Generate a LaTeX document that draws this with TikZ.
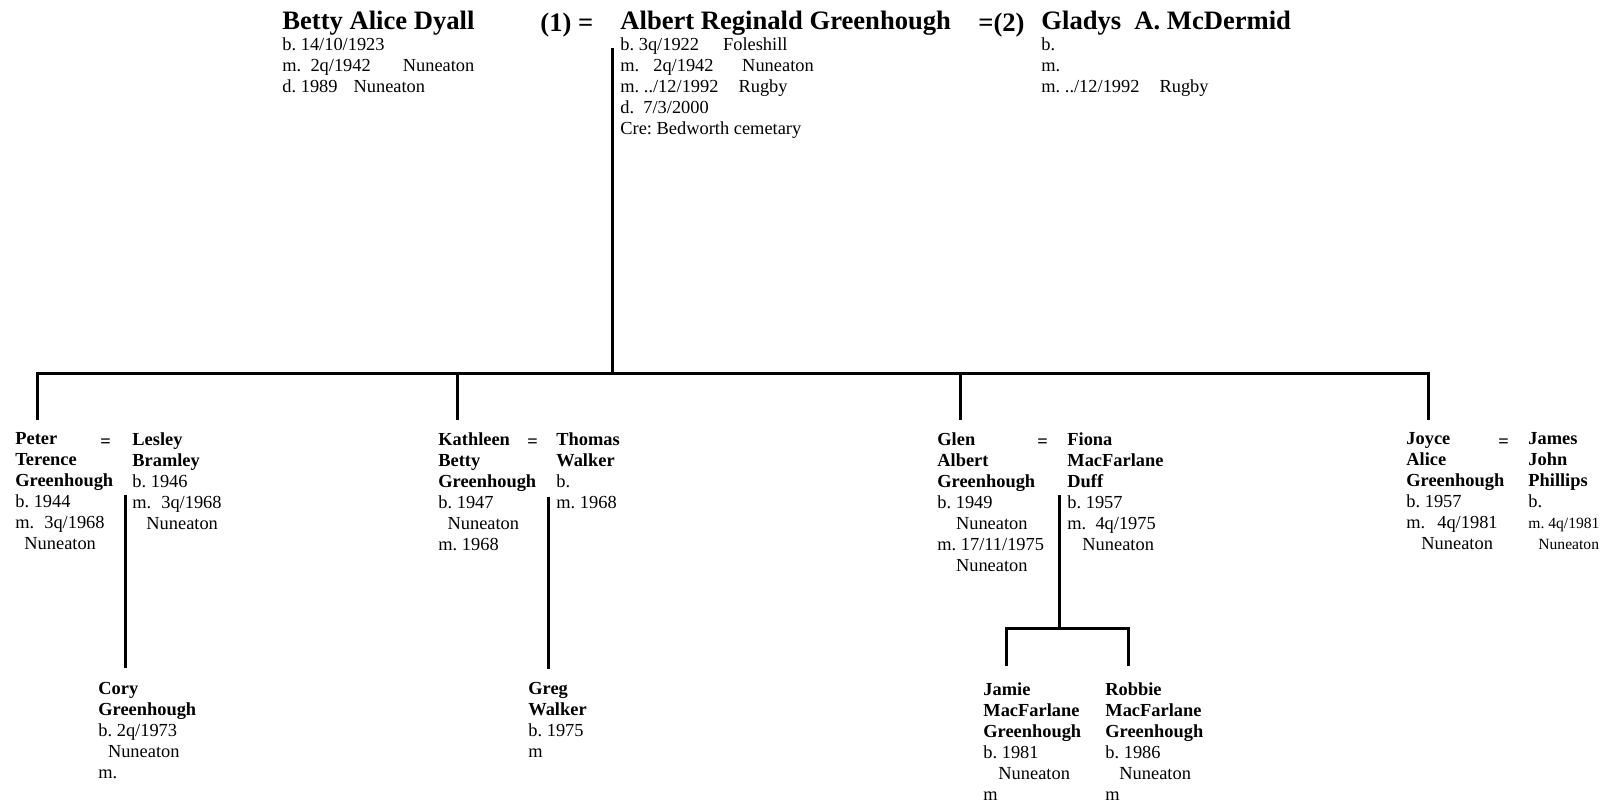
\documentclass[tikz,border=0pt]{standalone}
\usepackage{fontspec}
\setmainfont{Liberation Serif}
\newcommand{\elderfont}{\fontsize{13.3}{10.5}\selectfont\bfseries}
\newcommand{\notefont}{\fontsize{7.8}{10.5}\selectfont}
\begin{document}
\frenchspacing
\begin{tikzpicture}[x=0.5pt, y=-0.5pt,
  every node/.style={align=left, anchor=north west, inner sep=0pt, font=\fontsize{9.2}{10.5}\selectfont},
  person/.style={execute at begin node=\strut},
  elder/.style={execute at begin node={\rule{0pt}{10pt}}},
  tree/.style={line width=1.5pt}]
\useasboundingbox (0,0) rectangle (1615,803);

\node[elder] at (282,11) (betty) {\elderfont Betty Alice Dyall\\ b. 14/10/1923\\ m.\hspace{4.6pt}2q/1942\hspace{16pt}Nuneaton\\ d. 1989\hspace{8pt}Nuneaton};
\node[elder] at (540,11) (eqfirst) {\elderfont (1) =};
\node[elder] at (620,11) (albert) {\elderfont Albert Reginald Greenhough\\ b. 3q/1922\hspace{12pt}Foleshill\\ m.\hspace{7pt}2q/1942\hspace{14.3pt}Nuneaton\\ m. ../12/1992\hspace{10pt}Rugby\\ d.\hspace{4.6pt}7/3/2000\\ Cre: Bedworth cemetary};
\node[elder] at (978,11) (eqsecond) {\elderfont =(2)};
\node[elder] at (1041,11) (gladys) {\elderfont Gladys\hspace{6.6pt}A. McDermid\\ b.\\ m.\\ m. ../12/1992\hspace{10pt}Rugby};

\node[person] at (15,432) (peter) {\textbf{Peter}\\ \textbf{Terence}\\ \textbf{Greenhough}\\ b. 1944\\ m.\hspace{5pt}3q/1968\\ \hspace*{4.5pt}Nuneaton};
\node[person] at (100,432) (eqpeter) {\textbf{=}};
\node[person] at (132,432) (lesley) {\textbf{Lesley}\\ \textbf{Bramley}\\ b. 1946\\ m.\hspace{5pt}3q/1968\\ \hspace*{7pt}Nuneaton};
\node[person] at (438,432) (kathleen) {\textbf{Kathleen}\\ \textbf{Betty}\\ \textbf{Greenhough}\\ b. 1947\\ \hspace*{4.6pt}Nuneaton\\ m. 1968};
\node[person] at (527,432) (eqkathleen) {\textbf{=}};
\node[person] at (556,432) (thomas) {\textbf{Thomas}\\ \textbf{Walker}\\ b.\\ m. 1968};
\node[person] at (937,432) (glen) {\textbf{Glen}\\ \textbf{Albert}\\ \textbf{Greenhough}\\ b. 1949\\ \hspace*{9.3pt}Nuneaton\\ m. 17/11/1975\\ \hspace*{9.3pt}Nuneaton};
\node[person] at (1037,432) (eqglen) {\textbf{=}};
\node[person] at (1067,432) (fiona) {\textbf{Fiona}\\ \textbf{MacFarlane}\\ \textbf{Duff}\\ b. 1957\\ m.\hspace{4.6pt}4q/1975\\ \hspace*{7.5pt}Nuneaton};
\node[person] at (1406,432) (joyce) {\textbf{Joyce}\\ \textbf{Alice}\\ \textbf{Greenhough}\\ b. 1957\\ m.\hspace{6pt}4q/1981\\ \hspace*{7.5pt}Nuneaton};
\node[person] at (1498,432) (eqjoyce) {\textbf{=}};
\node[person] at (1528,432) (james) {\textbf{James}\\ \textbf{John}\\ \textbf{Phillips}\\ b.\\ \notefont m. 4q/1981\\ \notefont\hspace*{5pt}Nuneaton};

\node[person] at (98,682) (cory) {\textbf{Cory}\\ \textbf{Greenhough}\\ b. 2q/1973\\ \hspace*{4.8pt}Nuneaton\\ m.};
\node[person] at (528,682) (greg) {\textbf{Greg}\\ \textbf{Walker}\\ b. 1975\\ m};
\node[person] at (983,682) (jamie) {\textbf{Jamie}\\ \textbf{MacFarlane}\\ \textbf{Greenhough}\\ b. 1981\\ \hspace*{7.5pt}Nuneaton\\ m};
\node[person] at (1105,682) (robbie) {\textbf{Robbie}\\ \textbf{MacFarlane}\\ \textbf{Greenhough}\\ b. 1986\\ \hspace*{7pt}Nuneaton\\ m};

\coordinate (famtop) at (612,48);
\coordinate (fambar) at (612,373);
\coordinate (dropP) at (37,420);
\coordinate (dropK) at (457,420);
\coordinate (dropG) at (960,420);
\coordinate (dropJ) at (1428,420);
\coordinate (peterpair) at (125,495);
\coordinate (coryup) at (125,668);
\coordinate (kathpair) at (548,497);
\coordinate (gregup) at (548,669);
\coordinate (glenpair) at (1059,495);
\coordinate (glenbar) at (1059,628);
\coordinate (jamieup) at (1006,666);
\coordinate (robbieup) at (1128,666);

\draw[tree] (famtop) -- (fambar);
\draw[tree] (dropP) -- (dropP |- fambar) -- (dropJ |- fambar) -- (dropJ);
\draw[tree] (dropK |- fambar) -- (dropK);
\draw[tree] (dropG |- fambar) -- (dropG);
\draw[tree] (peterpair) -- (coryup);
\draw[tree] (kathpair) -- (gregup);
\draw[tree] (glenpair) -- (glenbar);
\draw[tree] (jamieup) -- (jamieup |- glenbar) -- (robbieup |- glenbar) -- (robbieup);
\end{tikzpicture}
\end{document}
